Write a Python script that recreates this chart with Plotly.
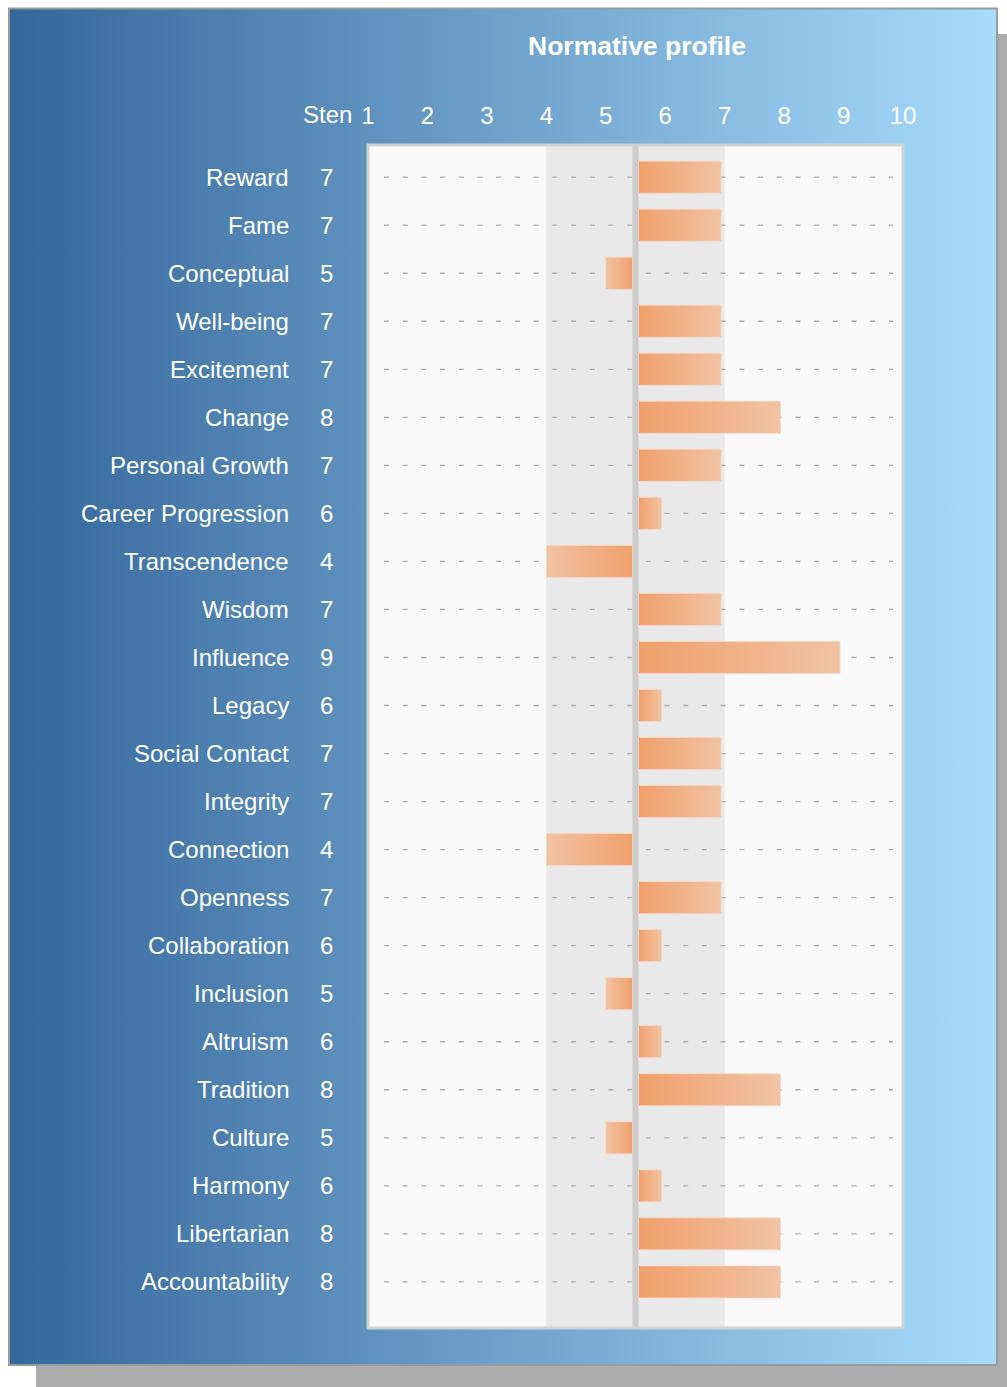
import base64
import plotly.graph_objects as go

# ---------------- data ----------------
categories = ["Reward", "Fame", "Conceptual", "Well-being", "Excitement", "Change",
              "Personal Growth", "Career Progression", "Transcendence", "Wisdom",
              "Influence", "Legacy", "Social Contact", "Integrity", "Connection",
              "Openness", "Collaboration", "Inclusion", "Altruism", "Tradition",
              "Culture", "Harmony", "Libertarian", "Accountability"]
sten = [7, 7, 5, 7, 7, 8, 7, 6, 4, 7, 9, 6, 7, 7, 4, 7, 6, 5, 6, 8, 5, 6, 8, 8]
tick_values = [1, 2, 3, 4, 5, 6, 7, 8, 9, 10]
tick_labels = ["1", "2", "3", "4", "5", "6", "7", "8", "9", "10"]
title_text = "Normative profile"
sten_header = "Sten"

# ---------------- layout constants ----------------
OFF = 0  # body margin removed below
W, H = 1007 - OFF, 1387 - OFF
ML, MT = 368 - OFF, 145 - OFF
MR, MB = W - (903 - OFF), H - (1328 - OFF)
PW, PH = W - ML - MR, H - MT - MB
MIDPOINT = 5.5
BAND = (4, 7)
HALF = 0.333
DARK, LIGHT = "#f0a06c", "#f1c3a3"
FONT = "Liberation Sans, Arial, sans-serif"


def px_x(p):  # reference-page pixel -> paper fraction
    return (p - OFF - ML) / PW


def px_y(p):
    return (H - MB - (p - OFF)) / PH


# background (gradient panel + drop shadow) as SVG
svg = f"""<svg xmlns='http://www.w3.org/2000/svg' width='{W}' height='{H}' viewBox='0 0 {W} {H}'>
<defs><linearGradient id='g' x1='0' y1='0' x2='1' y2='0'>
<stop offset='0' stop-color='#34679a'/><stop offset='1' stop-color='#a8dcfc'/>
</linearGradient></defs>
<rect x='36' y='34' width='{W-36}' height='{H-34}' fill='#adadad'/>
<rect x='9' y='8.5' width='988' height='1356.5' fill='url(#g)' stroke='#9a9a9a' stroke-width='2'/>
</svg>"""
src = "data:image/svg+xml;base64," + base64.b64encode(svg.encode()).decode()

fig = go.Figure()

for i, v in enumerate(sten):
    if v > MIDPOINT:
        x0, x1 = MIDPOINT + 0.05, v - 0.06
        cs = [[0, DARK], [1, LIGHT]]
    else:
        x0, x1 = v, MIDPOINT - 0.05
        cs = [[0, LIGHT], [1, DARK]]
    fig.add_trace(go.Scatter(
        x=[x0, x1, x1, x0, x0],
        y=[i - HALF, i - HALF, i + HALF, i + HALF, i - HALF],
        mode="lines", line=dict(width=0.8, color="rgba(250,215,195,0.9)"),
        fill="toself",
        fillgradient=dict(type="horizontal", colorscale=cs, start=x0, stop=x1),
        hoverinfo="skip", showlegend=False,
    ))

shapes = [
    dict(type="rect", xref="paper", yref="paper", x0=0, x1=1, y0=0, y1=1,
         fillcolor="#f9f9f9", line=dict(width=0), layer="below"),
    dict(type="rect", xref="x", yref="paper", x0=BAND[0], x1=BAND[1], y0=0, y1=1,
         fillcolor="#e9e9e9", line=dict(width=0), layer="below"),
]
for i in range(len(categories)):
    shapes.append(dict(type="line", xref="paper", yref="y", x0=px_x(384), x1=px_x(893),
                       y0=i, y1=i, line=dict(color="#aaaaaa", width=1.3, dash="5px,13.7px"),
                       layer="below"))
shapes.append(dict(type="line", xref="x", yref="paper", x0=MIDPOINT, x1=MIDPOINT, y0=0, y1=1,
                   line=dict(color="#cccccc", width=6), layer="below"))
shapes.append(dict(type="rect", xref="paper", yref="paper", x0=0, x1=1, y0=0, y1=1,
                   line=dict(color="#d2d2d2", width=3), layer="above"))

annotations = [
    dict(text=f"<b>{title_text}</b>", xref="paper", yref="paper", x=px_x(636.5), y=px_y(46),
         xanchor="center", yanchor="middle", showarrow=False,
         font=dict(family=FONT, size=26.5, color="white")),
    dict(text=sten_header, xref="paper", yref="paper", x=px_x(327), y=px_y(115),
         xanchor="center", yanchor="middle", showarrow=False,
         font=dict(family=FONT, size=24, color="white")),
]
for i, (c, v) in enumerate(zip(categories, sten)):
    annotations.append(dict(text=c, xref="paper", yref="y", x=px_x(291), y=i,
                            xanchor="right", yanchor="middle", showarrow=False,
                            font=dict(family=FONT, size=24, color="white")))
    annotations.append(dict(text=str(v), xref="paper", yref="y", x=px_x(326), y=i,
                            xanchor="center", yanchor="middle", showarrow=False,
                            font=dict(family=FONT, size=24, color="white")))

fig.update_layout(
    width=W, height=H,
    margin=dict(l=ML, r=MR, t=MT, b=MB, pad=0),
    paper_bgcolor="white", plot_bgcolor="rgba(0,0,0,0)",
    images=[dict(source=src, xref="paper", yref="paper", x=-ML / PW, y=1 + MT / PH,
                 sizex=W / PW, sizey=H / PH, xanchor="left", yanchor="top",
                 sizing="stretch", layer="below")],
    shapes=shapes, annotations=annotations,
    xaxis=dict(range=[1, 10], side="top", tickvals=tick_values, ticktext=tick_labels,
               showgrid=False, zeroline=False, showline=False, ticks="",
               tickfont=dict(family=FONT, size=24, color="white"), ticklabelstandoff=15,
               fixedrange=True),
    yaxis=dict(range=[23.96, -0.67], showgrid=False, zeroline=False, showline=False,
               showticklabels=False, ticks="", fixedrange=True),
    showlegend=False,
)

fig.write_html("out.html", config={"displayModeBar": False},
               post_script="document.body.style.margin='0';document.body.style.overflow='hidden';")
